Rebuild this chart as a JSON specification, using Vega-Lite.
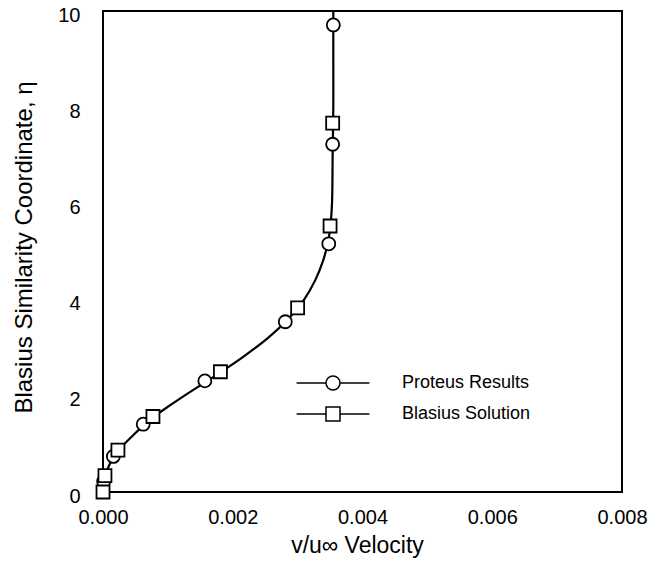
{
  "$schema": "https://vega.github.io/schema/vega-lite/v6.json",
  "width": 519,
  "height": 481,
  "autosize": "none",
  "padding": {"left": 103, "top": 11, "right": 39, "bottom": 79},
  "background": "white",
  "config": {
    "view": {"stroke": "black", "strokeWidth": 2},
    "font": "Liberation Sans"
  },
  "datasets": {
    "curve": [
      {"eta": 0, "v": 0},
      {"eta": 0.2, "v": 0.00001},
      {"eta": 0.4, "v": 0.00005},
      {"eta": 0.6, "v": 0.00011},
      {"eta": 0.8, "v": 0.0002},
      {"eta": 1.0, "v": 0.00033},
      {"eta": 1.2, "v": 0.00048},
      {"eta": 1.4, "v": 0.00064},
      {"eta": 1.6, "v": 0.00082},
      {"eta": 1.8, "v": 0.00103},
      {"eta": 2.0, "v": 0.00125},
      {"eta": 2.4, "v": 0.00171},
      {"eta": 2.8, "v": 0.00215},
      {"eta": 3.2, "v": 0.00254},
      {"eta": 3.6, "v": 0.00286},
      {"eta": 4.0, "v": 0.0031},
      {"eta": 4.4, "v": 0.00327},
      {"eta": 4.8, "v": 0.00339},
      {"eta": 5.2, "v": 0.00347},
      {"eta": 5.6, "v": 0.00351},
      {"eta": 6.0, "v": 0.00353},
      {"eta": 7.0, "v": 0.00354},
      {"eta": 8.0, "v": 0.00355},
      {"eta": 9.0, "v": 0.00355},
      {"eta": 10.0, "v": 0.00355}
    ],
    "points": [
      {"series": "Proteus Results", "eta": 0.22, "v": 0.00001},
      {"series": "Proteus Results", "eta": 0.74, "v": 0.00016},
      {"series": "Proteus Results", "eta": 1.41, "v": 0.00062},
      {"series": "Proteus Results", "eta": 2.31, "v": 0.00157},
      {"series": "Proteus Results", "eta": 3.54, "v": 0.00281},
      {"series": "Proteus Results", "eta": 5.16, "v": 0.00348},
      {"series": "Proteus Results", "eta": 7.23, "v": 0.00354},
      {"series": "Proteus Results", "eta": 9.71, "v": 0.00355},
      {"series": "Blasius Solution", "eta": 0, "v": 0},
      {"series": "Blasius Solution", "eta": 0.34, "v": 0.00003},
      {"series": "Blasius Solution", "eta": 0.87, "v": 0.00023},
      {"series": "Blasius Solution", "eta": 1.57, "v": 0.00077},
      {"series": "Blasius Solution", "eta": 2.5, "v": 0.00181},
      {"series": "Blasius Solution", "eta": 3.83, "v": 0.003},
      {"series": "Blasius Solution", "eta": 5.53, "v": 0.0035},
      {"series": "Blasius Solution", "eta": 7.67, "v": 0.00354}
    ],
    "xticks": [{"v": 0.002}, {"v": 0.004}, {"v": 0.006}],
    "yticks": [{"eta": 2}, {"eta": 4}, {"eta": 6}, {"eta": 8}]
  },
  "encoding": {
    "x": {
      "field": "v",
      "type": "quantitative",
      "scale": {"domain": [0, 0.008], "nice": false, "zero": false},
      "axis": {
        "values": [0, 0.002, 0.004, 0.006, 0.008],
        "format": ".3f",
        "domain": false,
        "grid": false,
        "ticks": false,
        "tickSize": 0,
        "labelColor": "black",
        "labelFontSize": 20,
        "labelFlush": false,
        "labelPadding": 15,
        "title": "v/u∞  Velocity",
        "titleColor": "black",
        "titleFontSize": 23,
        "titleFontWeight": "normal",
        "titleX": 254,
        "titleY": 53,
        "titleBaseline": "middle",
        "titleAlign": "center"
      }
    },
    "y": {
      "field": "eta",
      "type": "quantitative",
      "scale": {"domain": [0, 10], "nice": false},
      "axis": {
        "values": [0, 2, 4, 6, 8, 10],
        "domain": false,
        "grid": false,
        "ticks": false,
        "tickSize": 0,
        "labelColor": "black",
        "labelFontSize": 20,
        "labelPadding": 23,
        "labelOffset": 4,
        "title": "Blasius Similarity Coordinate, η",
        "titleColor": "black",
        "titleFontSize": 24,
        "titleFontWeight": "normal",
        "titleX": -79,
        "titleY": 236,
        "titleAngle": -90,
        "titleBaseline": "middle",
        "titleAlign": "center"
      }
    }
  },
  "resolve": {"scale": {"shape": "independent"}},
  "layer": [
    {
      "data": {"name": "xticks"},
      "mark": {"type": "tick", "orient": "vertical", "color": "black", "size": 22, "thickness": 2, "opacity": 1},
      "encoding": {
        "y": {"datum": 0.2285, "type": "quantitative"}
      }
    },
    {
      "data": {"name": "yticks"},
      "mark": {"type": "tick", "orient": "horizontal", "color": "black", "size": 22, "thickness": 2, "opacity": 1},
      "encoding": {
        "x": {"datum": 0.00017, "type": "quantitative"}
      }
    },
    {
      "data": {"name": "curve"},
      "mark": {"type": "line", "color": "black", "strokeWidth": 2.2, "interpolate": "catmull-rom", "clip": false},
      "encoding": {"order": {"field": "eta", "type": "quantitative"}}
    },
    {
      "data": {"name": "points"},
      "mark": {"type": "point", "filled": true, "fill": "white", "stroke": "black", "strokeWidth": 1.8, "size": 169, "opacity": 1},
      "encoding": {
        "shape": {
          "field": "series",
          "type": "nominal",
          "scale": {"domain": ["Proteus Results", "Blasius Solution"], "range": ["circle", "square"]},
          "legend": null
        }
      }
    },
    {
      "data": {"name": "points"},
      "transform": [{"filter": "false"}],
      "mark": {"type": "point", "filled": true, "fill": "white", "stroke": "black", "strokeWidth": 1.8, "opacity": 1},
      "encoding": {
        "shape": {
          "field": "series",
          "type": "nominal",
          "scale": {
            "domain": ["Proteus Results", "Blasius Solution"],
            "range": [
              "M-5.2,0L-1,0M1,0L5.2,0M-1,0A1,1,0,1,0,1,0A1,1,0,1,0,-1,0",
              "M-5.2,0L-1,0M1,0L5.2,0M-1,-1L1,-1L1,1L-1,1Z"
            ]
          },
          "legend": {
            "title": null,
            "orient": "none",
            "legendX": 221,
            "legendY": 363,
            "symbolSize": 196,
            "labelFontSize": 18,
            "labelColor": "black",
            "labelOffset": 60,
            "rowPadding": 11,
            "encode": {
              "symbols": {
                "update": {
                  "fill": {"value": "white"},
                  "stroke": {"value": "black"},
                  "strokeWidth": {"value": 1.8},
                  "opacity": {"value": 1}
                }
              }
            }
          }
        }
      }
    }
  ]
}
